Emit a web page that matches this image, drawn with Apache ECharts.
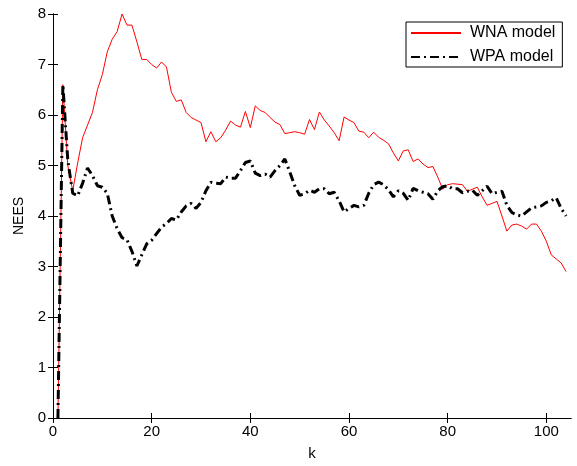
<!DOCTYPE html>
<html>
<head>
<meta charset="utf-8">
<script src="https://cdn.jsdelivr.net/npm/echarts@6/dist/echarts.min.js"></script>
<style>
html,body{margin:0;padding:0;background:#fff;}
#c{width:577px;height:466px;}
</style>
</head>
<body>
<div id="c"></div>
<script>
// NEES values for k = 1..104
const wnaValues = [
  0, 6.6, 5.0, 4.5, 5.05, 5.55, 5.8, 6.05, 6.5, 6.8,
  7.25, 7.5, 7.65, 8.0, 7.78, 7.78, 7.45, 7.1, 7.1, 7.0,
  6.93, 7.05, 6.95, 6.45, 6.27, 6.3, 6.05, 5.95, 5.9, 5.85,
  5.47, 5.67, 5.47, 5.55, 5.7, 5.88, 5.8, 5.76, 6.07, 5.75,
  6.18, 6.09, 6.05, 5.95, 5.86, 5.81, 5.63, 5.65, 5.67, 5.65,
  5.62, 5.91, 5.71, 6.06, 5.9, 5.78, 5.65, 5.49, 5.96, 5.9,
  5.85, 5.68, 5.66, 5.55, 5.66, 5.56, 5.5, 5.43, 5.25, 5.09,
  5.29, 5.31, 5.08, 5.13, 5.03, 4.96, 4.98, 4.77, 4.53, 4.62,
  4.64, 4.63, 4.62, 4.49, 4.53, 4.57, 4.38, 4.21, 4.25, 4.29,
  4.0, 3.7, 3.82, 3.84, 3.8, 3.74, 3.84, 3.84, 3.7, 3.5,
  3.23, 3.15, 3.07, 2.9
];
const wpaValues = [
  0, 6.6, 5.1, 4.45, 4.4, 4.65, 4.95, 4.8, 4.6, 4.57,
  4.45, 4.0, 3.75, 3.57, 3.53, 3.3, 3.01, 3.23, 3.45, 3.52,
  3.65, 3.78, 3.85, 3.95, 3.92, 4.08, 4.2, 4.25, 4.15, 4.27,
  4.5, 4.67, 4.65, 4.64, 4.77, 4.75, 4.75, 4.9, 5.06, 5.09,
  4.85, 4.8, 4.83, 4.77, 4.9, 5.0, 5.13, 4.87, 4.6, 4.41,
  4.44, 4.51, 4.47, 4.54, 4.54, 4.44, 4.47, 4.3, 4.08, 4.15,
  4.21, 4.18, 4.21, 4.45, 4.62, 4.67, 4.62, 4.52, 4.38, 4.5,
  4.45, 4.31, 4.55, 4.5, 4.47, 4.44, 4.33, 4.5, 4.58, 4.6,
  4.54, 4.54, 4.46, 4.49, 4.51, 4.41, 4.5, 4.59, 4.44, 4.47,
  4.49, 4.21, 4.07, 4.02, 4.0, 4.08, 4.16, 4.18, 4.2, 4.27,
  4.3, 4.36, 4.15, 4.0
];
const seriesNames = ['WNA model', 'WPA model'];
const xTicks = [0, 20, 40, 60, 80, 100];
const yTicks = [0, 1, 2, 3, 4, 5, 6, 7, 8];

const toPairs = vals => vals.map((v, i) => [i + 1, v]);
const FONT = '"Liberation Sans", Arial, sans-serif';

const lineAxis = {show: true, lineStyle: {color: '#000', width: 1}};
const tickX = {show: true, inside: true, length: 5, customValues: xTicks, lineStyle: {color: '#000'}};
const tickY = {show: true, inside: true, length: 5, customValues: yTicks, lineStyle: {color: '#000'}};

const chart = echarts.init(document.getElementById('c'), null, {renderer: 'canvas'});
chart.setOption({
  animation: false,
  backgroundColor: '#fff',
  grid: {left: 53, top: 14, right: 6, bottom: 44, containLabel: false},
  xAxis: [
    {
      type: 'value', min: 0, max: 105, position: 'bottom',
      name: 'k', nameLocation: 'middle', nameGap: 28,
      nameTextStyle: {fontFamily: FONT, fontSize: 15, color: '#000'},
      axisLine: lineAxis, axisTick: tickX, splitLine: {show: false},
      axisLabel: {fontFamily: FONT, fontSize: 15, color: '#000', margin: 6, customValues: xTicks}
    },
    {
      type: 'value', min: 0, max: 105, position: 'top',
      axisLine: lineAxis, axisTick: tickX, splitLine: {show: false},
      axisLabel: {show: false}
    }
  ],
  yAxis: [
    {
      type: 'value', min: 0, max: 8, position: 'left',
      name: 'NEES', nameLocation: 'middle', nameGap: 27, nameRotate: 90,
      nameTextStyle: {fontFamily: FONT, fontSize: 14, color: '#000'},
      axisLine: lineAxis, axisTick: tickY, splitLine: {show: false},
      axisLabel: {fontFamily: FONT, fontSize: 15, color: '#000', margin: 7, customValues: yTicks}
    },
    {
      type: 'value', min: 0, max: 8, position: 'right',
      axisLine: lineAxis, axisTick: tickY, splitLine: {show: false},
      axisLabel: {show: false}
    }
  ],
  legend: {
    left: 406, top: 22, orient: 'vertical',
    backgroundColor: '#fff', borderColor: '#000', borderWidth: 1,
    padding: [3, 7, 2, 4], itemGap: 8, itemWidth: 50, itemHeight: 14,
    itemStyle: {opacity: 0, borderWidth: 0},
    textStyle: {fontFamily: FONT, fontSize: 16, color: '#000', padding: [0, 0, 0, 4]},
    data: seriesNames
  },
  series: [
    {
      name: seriesNames[0], type: 'line', data: toPairs(wnaValues),
      showSymbol: false, symbol: 'none',
      lineStyle: {color: '#ff0000', width: 1},
      itemStyle: {color: '#ff0000'}, z: 2
    },
    {
      name: seriesNames[1], type: 'line', data: toPairs(wpaValues),
      showSymbol: false, symbol: 'none',
      lineStyle: {color: '#000', width: 3, type: [9, 4, 2, 4], cap: 'butt'},
      itemStyle: {color: '#000'}, z: 3
    }
  ]
});
</script>
</body>
</html>
